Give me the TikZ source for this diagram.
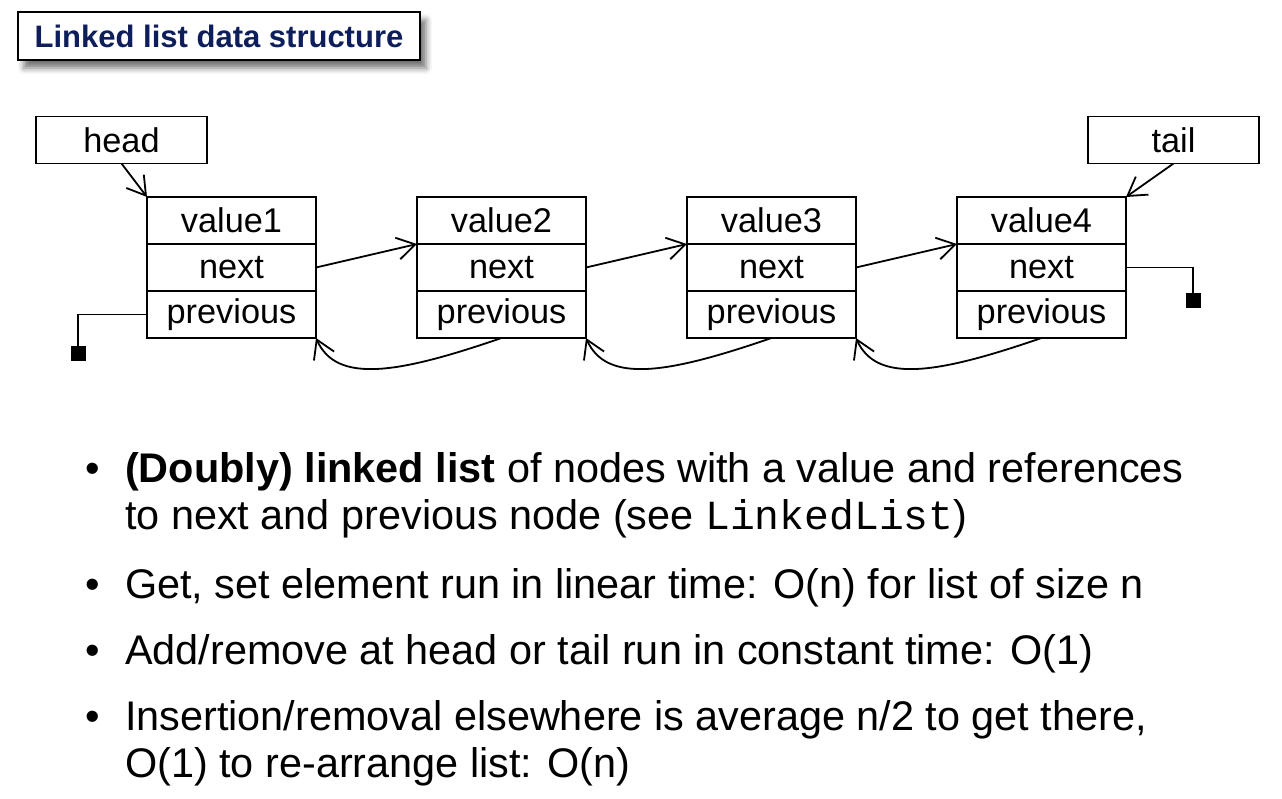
\documentclass[tikz,border=0pt]{standalone}
\usepackage{fontspec}
\setmainfont{Liberation Sans}
\setmonofont{Liberation Mono}
\usetikzlibrary{positioning,arrows.meta,shadows.blur}
\definecolor{titleblue}{RGB}{14,30,90}
\newcommand{\cellfont}{\fontsize{34.3}{34.3}\selectfont}
\newcommand{\itemfont}{\fontsize{41.4}{47}\selectfont}

\tikzset{
  cell/.style={draw, line width=1.8pt, minimum width=169pt, minimum height=47pt,
    inner sep=0pt, outer sep=0pt, font=\cellfont},
  pointer/.style={cell, minimum width=171pt},
  link/.style={line width=1.8pt, -{Straight Barb[length=18pt,width=22pt,line width=1.8pt]}},
  nullbox/.style={fill=black, minimum width=15pt, minimum height=15pt, inner sep=0pt},
  titlebox/.style={draw, line width=1.8pt, fill=white, minimum width=402pt, minimum height=48pt,
    inner sep=0pt, text=titleblue, font=\fontsize{31}{31}\selectfont\bfseries,
    blur shadow={shadow xshift=6pt, shadow yshift=-8pt, shadow blur radius=6pt, shadow opacity=55}},
  itemtext/.style={anchor=base west, inner sep=0pt, font=\itemfont},
  dot/.style={anchor=base, inner sep=0pt, font=\itemfont},
}

\begin{document}
\begin{tikzpicture}[x=1pt, y=1pt]
  \useasboundingbox (0,0) rectangle (1282,-798);

  % title
  \node[titlebox] (title) at (219,-36) {Linked list data structure};

  % list nodes
  \foreach \i in {1,...,4} {
    \node[cell] (v\i) at ({231.5+270*(\i-1)},-220.5) {value\i};
    \node[cell, below=0pt of v\i] (n\i) {next};
    \node[cell, below=0pt of n\i] (p\i) {previous};
  }

  \node[pointer] (head) at (121.5,-140) {head};
  \node[pointer] (tail) at (1173.5,-140) {tail};
  \draw[link] (head.south) -- (v1.north west);
  \draw[link] (tail.south) -- (v4.north east);

  % next and previous references
  \foreach \i/\j in {1/2,2/3,3/4} {
    \draw[link] (n\i.east) -- (v\j.south west);
    \draw[link] (p\j.south) to[out=199, in=-66, out looseness=1.5, in looseness=0.7] (p\i.south east);
  }

  % null ends
  \node[nullbox, anchor=north] (nullL) at (78,-346) {};
  \node[nullbox, anchor=north] (nullR) at (1193,-293) {};
  \draw[line width=1.8pt] (p1.west) -| (nullL.north);
  \draw[line width=1.8pt] (n4.east) -| (nullR.north);

  % bullets
  \node[dot] (d1) at (93,-482) {•};
  \node[itemtext] (t1) at (125,-482) {\textbf{(Doubly) linked list} of nodes with a value and references};
  \node[itemtext] (t1b) at (125,-529) {to next and previous node (see \texttt{LinkedList})};
  \node[dot] (d2) at (93,-598) {•};
  \node[itemtext] (t2) at (125,-598) {Get, set element run in linear time: O(n) for list of size n};
  \node[dot] (d3) at (93,-664) {•};
  \node[itemtext] (t3) at (125,-664) {Add/remove at head or tail run in constant time: O(1)};
  \node[dot] (d4) at (93,-730) {•};
  \node[itemtext] (t4) at (125,-730) {Insertion/removal elsewhere is average n/2 to get there,};
  \node[itemtext] (t4b) at (125,-777) {O(1) to re-arrange list: O(n)};
\end{tikzpicture}
\end{document}
